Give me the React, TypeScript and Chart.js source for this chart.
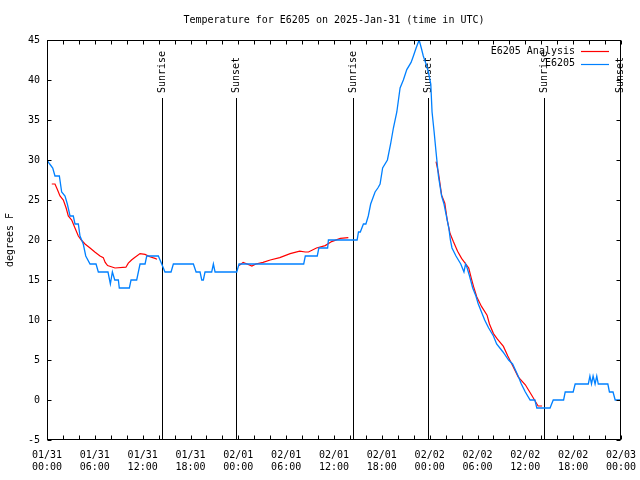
import React, { useEffect, useRef } from "react";
import { Chart, registerables } from "chart.js";

Chart.register(...registerables);

const titleText = "Temperature for E6205 on 2025-Jan-31 (time in UTC)";
const yAxisTitle = "degrees F";
const dayLabels = ["01/31", "02/01", "02/02", "02/03"];
const hourLabels = ["00:00", "06:00", "12:00", "18:00"];
const seriesNames = ["E6205 Analysis", "E6205"];
const seriesColors = ["#ff0000", "#0080ff"];

// Sun events (hours after 01/31 00:00 UTC)
const eventHours = [14.45, 23.75, 38.35, 47.85, 62.4, 71.85];
const eventLabels = ["Sunrise", "Sunset", "Sunrise", "Sunset", "Sunrise", "Sunset"];

// Observed temperature (E6205)
const obsHours = [
  0, 0.34, 0.72, 1.0, 1.55, 1.84, 2.26, 2.55, 2.89, 3.3, 3.51, 3.93, 4.14, 4.55, 4.86, 5.4,
  6.15, 6.44, 7.28, 7.65, 7.95, 8.2, 8.5, 8.95, 9.07, 10.33, 10.54, 11.25, 11.67, 12.3, 12.51,
  13.97, 14.18, 14.39, 14.8, 15.56, 15.85, 18.36, 18.7, 19.2, 19.41, 19.61, 19.82, 20.66, 20.87,
  21.08, 23.8, 24.09, 32.2, 32.4, 33.9, 34.1, 35.2, 35.3, 38.9, 39.07, 39.3, 39.69, 40.0, 40.3,
  40.6, 41.15, 41.5, 41.78, 42.1, 42.7, 43.1, 43.45, 43.88, 44.29, 44.7, 45.13, 45.67, 45.96,
  46.3, 46.68, 46.95, 47.2, 47.64, 47.84, 48.14, 48.3, 48.56, 48.8, 49.1, 49.5, 49.8, 50.1,
  50.4, 50.6, 50.8, 51.3, 51.9, 52.3, 52.5, 52.7, 53.0, 53.4, 53.8, 54.1, 54.5, 54.9, 55.4,
  56.0, 56.4, 57.2, 57.9, 58.4, 59.1, 59.5, 60.0, 60.6, 61.2, 61.44, 63.1, 63.5, 64.8, 65.0,
  66.0, 66.25, 67.9, 68.1, 68.3, 68.5, 68.75, 68.96, 69.15, 70.35, 70.55, 71.0, 71.27, 72,
];
const obsTemps = [
  30, 29.5, 29, 28, 28, 26, 25.5, 24.5, 23, 23, 22, 22, 20.5, 19.5, 18, 17,
  17, 16, 16, 16, 14.5, 16, 15, 15, 14, 14, 15, 15, 17, 17, 18,
  18, 17.5, 17, 16, 16, 17, 17, 16, 16, 15, 15, 16, 16, 17,
  16, 16, 17, 17, 18, 18, 19, 19, 20, 20, 21, 21, 22, 22, 23,
  24.5, 26, 26.5, 27, 29, 30, 32, 34, 36, 39, 40, 41.3, 42.2, 43,
  44, 45, 44, 43, 41.7, 41, 39.5, 36, 33.5, 31, 28, 25.5, 24.5, 23,
  21.5, 20, 19, 18, 17, 16, 17, 16.5, 15.5, 14, 13, 12, 11, 10, 9,
  8, 7, 6, 5, 4.5, 3, 2, 1, 0, 0, -1, -1, 0, 0, 1,
  1, 2, 2, 3, 2, 3, 2, 3, 2, 2, 1, 1, 0, 0,
];

// Analysis (three separate runs)
const anaHours1 = [0.6, 1.0, 1.3, 1.63, 2.05, 2.4, 2.67, 3.1, 3.51, 3.93, 4.3, 4.77, 5.4, 6.0, 6.65, 7.06, 7.3, 7.6, 8.53, 9.9, 10.2, 10.6, 11.0, 11.67, 12.3, 12.9, 13.55, 13.8];
const anaTemps1 = [27, 27, 26.3, 25.5, 25, 24, 23, 22.5, 21.5, 20.5, 20, 19.5, 19, 18.5, 18, 17.8, 17.2, 16.8, 16.5, 16.6, 17.1, 17.5, 17.8, 18.3, 18.2, 17.9, 17.7, 17.6];
const anaHours2 = [24.1, 24.6, 25.1, 25.7, 26.2, 27.1, 28.0, 29.2, 30.5, 31.7, 32.4, 32.8, 33.8, 34.9, 35.7, 36.8, 37.8];
const anaTemps2 = [16.8, 17.2, 17.0, 16.75, 17, 17.2, 17.5, 17.8, 18.3, 18.6, 18.5, 18.5, 19, 19.3, 19.8, 20.2, 20.3];
const anaHours3 = [48.8, 49.1, 49.5, 49.9, 50.2, 50.56, 50.97, 51.5, 52.0, 52.9, 53.2, 53.5, 53.9, 54.5, 55.2, 55.5, 56.0, 56.5, 57.25, 57.8, 58.4, 59.1, 60.0, 60.8, 61.6, 62.1];
const anaTemps3 = [29.8, 28.4, 25.6, 24.6, 22.5, 20.8, 19.8, 18.6, 17.7, 16.5, 15.3, 14.2, 12.9, 11.7, 10.6, 9.5, 8.3, 7.6, 6.7, 5.5, 4.3, 2.9, 1.9, 0.6, -0.75, -0.75];

const FONT_FAMILY = "'DejaVu Sans Mono', 'Liberation Mono', monospace";
const FONT = "10px " + FONT_FAMILY;

function toPoints(hours: number[], temps: number[]) {
  return hours.map((h, i) => ({ x: h, y: temps[i] }));
}

const anaPoints = [
  ...toPoints(anaHours1, anaTemps1),
  { x: 18, y: null },
  ...toPoints(anaHours2, anaTemps2),
  { x: 43, y: null },
  ...toPoints(anaHours3, anaTemps3),
];

const decorPlugin = {
  id: "decor",
  beforeDatasetsDraw(chart: any) {
    const { ctx, chartArea, scales } = chart;
    const { top, bottom } = chartArea;
    ctx.save();
    ctx.strokeStyle = "#000";
    ctx.fillStyle = "#000";
    ctx.lineWidth = 1;
    ctx.font = FONT;
    eventHours.forEach((h, i) => {
      const px = Math.round(scales.x.getPixelForValue(h)) + 0.5;
      ctx.beginPath();
      ctx.moveTo(px, top + 58);
      ctx.lineTo(px, bottom);
      ctx.stroke();
      ctx.save();
      ctx.translate(px, top + 53);
      ctx.rotate(-Math.PI / 2);
      ctx.textAlign = "left";
      ctx.textBaseline = "middle";
      ctx.fillText(eventLabels[i], 0, 0);
      ctx.restore();
    });
    ctx.restore();
  },
  afterDraw(chart: any) {
    const { ctx, chartArea, scales } = chart;
    const { left, right, top, bottom } = chartArea;
    ctx.save();
    ctx.strokeStyle = "#000";
    ctx.lineWidth = 1;
    const L = Math.round(left) + 0.5;
    const R = Math.round(right) - 0.5;
    const T = Math.round(top) + 0.5;
    const B = Math.round(bottom) - 0.5;
    ctx.strokeRect(L, T, R - L, B - T);
    ctx.beginPath();
    for (let h = 0; h <= 72; h += 2) {
      const px = Math.round(scales.x.getPixelForValue(h)) + 0.5;
      ctx.moveTo(px, B);
      ctx.lineTo(px, B - 4);
      ctx.moveTo(px, T);
      ctx.lineTo(px, T + 4);
    }
    for (let v = -5; v <= 45; v += 5) {
      const py = Math.round(scales.y.getPixelForValue(v)) + 0.5;
      ctx.moveTo(L, py);
      ctx.lineTo(L + 4, py);
      ctx.moveTo(R, py);
      ctx.lineTo(R - 4, py);
    }
    ctx.stroke();

    // legend
    ctx.font = FONT;
    ctx.textAlign = "right";
    ctx.textBaseline = "middle";
    seriesNames.forEach((name, i) => {
      const y = top + 11 + i * 12.5;
      ctx.fillStyle = "#000";
      ctx.fillText(name, right - 46, y);
      ctx.strokeStyle = seriesColors[i];
      ctx.lineWidth = 1.2;
      ctx.beginPath();
      ctx.moveTo(right - 40, Math.round(y) + 0.5);
      ctx.lineTo(right - 12, Math.round(y) + 0.5);
      ctx.stroke();
    });
    ctx.restore();
  },
};

export default function App() {
  const canvasRef = useRef<HTMLCanvasElement | null>(null);

  useEffect(() => {
    if (!canvasRef.current) return;
    const chart = new Chart(canvasRef.current, {
      type: "line",
      data: {
        datasets: [
          {
            label: seriesNames[1],
            data: toPoints(obsHours, obsTemps),
            borderColor: seriesColors[1],
            borderWidth: 1.3,
            pointRadius: 0,
            tension: 0,
            fill: false,
          },
          {
            label: seriesNames[0],
            data: anaPoints as any,
            borderColor: seriesColors[0],
            borderWidth: 1.2,
            pointRadius: 0,
            tension: 0,
            fill: false,
            spanGaps: false,
          },
        ],
      },
      options: {
        responsive: false,
        animation: false,
        devicePixelRatio: 1,
        layout: { padding: { top: 0, right: 19, bottom: 0, left: 0 } },
        plugins: {
          legend: { display: false },
          tooltip: { enabled: false },
          title: {
            display: true,
            text: titleText,
            color: "#000",
            fullSize: false,
            font: { family: FONT_FAMILY, size: 10, weight: "normal", lineHeight: 1.2 },
            padding: { top: 14, bottom: 14 },
          },
        },
        scales: {
          x: {
            type: "linear",
            min: 0,
            max: 72,
            afterFit: (s: any) => {
              s.height = 40;
              s.paddingLeft = 0;
              s.paddingRight = 0;
            },
            grid: { display: false, drawTicks: false },
            border: { display: false },
            ticks: {
              stepSize: 6,
              autoSkip: false,
              maxRotation: 0,
              minRotation: 0,
              padding: 9,
              color: "#000",
              font: { family: FONT_FAMILY, size: 10, lineHeight: 1.2 },
              callback: (v: any) => {
                const h = Number(v);
                return [dayLabels[Math.floor(h / 24)], hourLabels[Math.round((h % 24) / 6)]];
              },
            },
          },
          y: {
            type: "linear",
            min: -5,
            max: 45,
            afterFit: (s: any) => {
              s.width = 47;
              s.paddingTop = 0;
              s.paddingBottom = 0;
            },
            grid: { display: false, drawTicks: false },
            border: { display: false },
            ticks: {
              stepSize: 5,
              padding: 7,
              color: "#000",
              font: { family: FONT_FAMILY, size: 10, lineHeight: 1.2 },
            },
            title: {
              display: true,
              text: yAxisTitle,
              color: "#000",
              font: { family: FONT_FAMILY, size: 10, lineHeight: 1.2 },
              padding: { top: 4, bottom: 0 },
            },
          },
        },
      },
      plugins: [decorPlugin],
    });
    return () => chart.destroy();
  }, []);

  return (
    <div style={{ position: "fixed", left: 0, top: 0, width: 640, height: 480, background: "#fff" }}>
      <canvas ref={canvasRef} width={640} height={480} />
    </div>
  );
}
